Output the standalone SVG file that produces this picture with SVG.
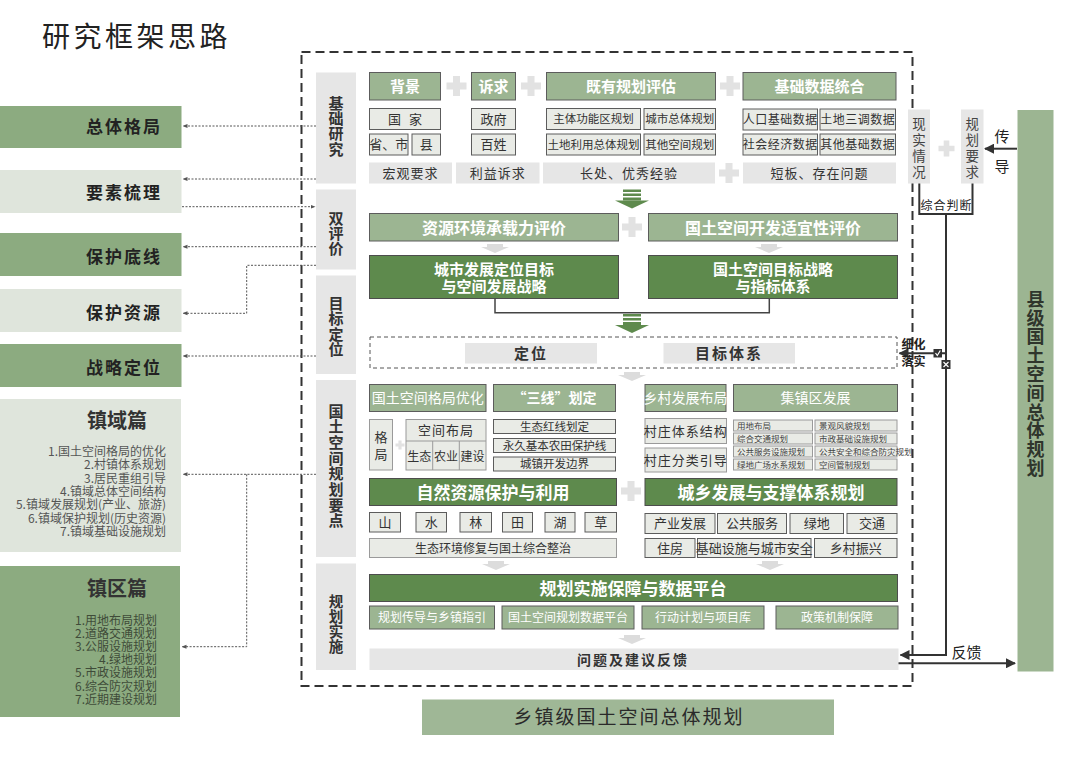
<svg xmlns="http://www.w3.org/2000/svg" width="1080" height="764" viewBox="0 0 1080 764">
<defs>
<style>
text{font-family:"Noto Sans CJK SC","Noto Sans",sans-serif;}
.hd{fill:#9cb592;stroke:#5c5c5c;stroke-width:1}
.dk{fill:#5e8a4d;stroke:#4d4d4d;stroke-width:1}
.lt{fill:#e9ebe6;stroke:#5c5c5c;stroke-width:1}
.lt2{fill:#e9ebe6;stroke:#9a9a9a;stroke-width:1}
.gy{fill:#e6e6e6}
.lg{fill:#8cab80}
.ll{fill:#dfe5dc}
.tw{fill:#fff;font-weight:bold;text-anchor:middle}
.twn{fill:#fff;text-anchor:middle}
.td{fill:#333;text-anchor:middle}
.tb{fill:#333;font-weight:bold;text-anchor:middle}
.vt{writing-mode:vertical-rl;text-anchor:middle}
.lbl{fill:#222;font-weight:bold;font-size:17px;letter-spacing:2px;text-anchor:end}
.lst{fill:#555;font-size:12px;text-anchor:end}
.dot{fill:none;stroke:#555;stroke-width:1;stroke-dasharray:2 1.5}
.ln{fill:none;stroke:#333;stroke-width:2}
.sm{fill:#444;font-size:8.5px}
</style>
<marker id="ms" viewBox="0 0 10 10" refX="9" refY="5" markerWidth="5" markerHeight="5" orient="auto"><path d="M0,1 L10,5 L0,9 Z" fill="#555"/></marker>
<marker id="mb" viewBox="0 0 10 10" refX="9" refY="5" markerWidth="5" markerHeight="5" orient="auto"><path d="M0,0 L10,5 L0,10 Z" fill="#333"/></marker>
<g id="plus"><path d="M-10 -3.5H10V3.5H-10Z M-3.5 -10H3.5V10H-3.5Z" fill="#e2e2e2"/></g>
<g id="big" fill="#5e8a4d"><rect x="-9" y="0" width="18" height="2.5"/><rect x="-9" y="4" width="18" height="2.5"/><rect x="-9" y="8" width="18" height="3"/><polygon points="-17,11 17,11 0,19"/></g>
<g id="sa"><polygon points="-8,0 8,0 8,3 14,3 0,9 -14,3 -8,3" fill="#dcdcdc"/></g>
</defs>
<rect width="1080" height="764" fill="#fff"/>

<text x="42" y="47" font-size="28" fill="#222" letter-spacing="3.5">研究框架思路</text>

<!-- left nodes -->
<g id="left-zongti"><rect x="0" y="106" width="181.5" height="42" class="lg"/><text x="162" y="133" class="lbl">总体格局</text></g>
<g id="left-yaosu"><rect x="0" y="170" width="181.5" height="43" class="ll"/><text x="162" y="199" class="lbl">要素梳理</text></g>
<g id="left-dixian"><rect x="0" y="233" width="181.5" height="43" class="lg"/><text x="162" y="263" class="lbl">保护底线</text></g>
<g id="left-ziyuan"><rect x="0" y="289" width="181.5" height="43" class="ll"/><text x="162" y="319" class="lbl">保护资源</text></g>
<g id="left-zhanlue"><rect x="0" y="344" width="181.5" height="43" class="lg"/><text x="162" y="374" class="lbl">战略定位</text></g>
<g id="left-zhenyu"><rect x="0" y="399" width="181" height="153" class="ll"/>
<text x="117" y="428" class="tb" font-size="20">镇域篇</text>
<text class="lst"><tspan x="166" y="456">1.国土空间格局的优化</tspan><tspan x="166" dy="13.3">2.村镇体系规划</tspan><tspan x="166" dy="13.3">3.居民重组引导</tspan><tspan x="166" dy="13.3">4.镇域总体空间结构</tspan><tspan x="166" dy="13.3">5.镇域发展规划(产业、旅游)</tspan><tspan x="166" dy="13.3">6.镇域保护规划(历史资源)</tspan><tspan x="166" dy="13.3">7.镇域基础设施规划</tspan></text></g>
<g id="left-zhenqu"><rect x="0" y="566" width="180" height="151" class="lg"/>
<text x="117" y="596" class="tb" font-size="20">镇区篇</text>
<text class="lst" style="fill:#3f4b39"><tspan x="157" y="624.5">1.用地布局规划</tspan><tspan x="157" dy="13.2">2.道路交通规划</tspan><tspan x="157" dy="13.2">3.公服设施规划</tspan><tspan x="157" dy="13.2">4.绿地规划</tspan><tspan x="157" dy="13.2">5.市政设施规划</tspan><tspan x="157" dy="13.2">6.综合防灾规划</tspan><tspan x="157" dy="13.2">7.近期建设规划</tspan></text></g>

<!-- outer dashed frame -->
<rect x="301.5" y="52" width="611" height="634" fill="none" stroke="#333" stroke-width="2" stroke-dasharray="9 5"/>

<!-- column labels -->
<g id="col-jichu"><rect x="316" y="72.5" width="40" height="111" class="gy"/><text x="336" y="126.3" class="tb vt" font-size="15" letter-spacing="0.3">基础研究</text></g>
<g id="col-shuang"><rect x="316" y="189.5" width="40" height="80" class="gy"/><text x="336" y="233.3" class="tb vt" font-size="15">双评价</text></g>
<g id="col-mubiao"><rect x="316" y="275.5" width="40" height="98.5" class="gy"/><text x="336" y="326.5" class="tb vt" font-size="15" letter-spacing="0.3">目标定位</text></g>
<g id="col-yaodian"><rect x="316" y="380" width="40" height="177" class="gy"/><text x="336" y="466" class="tb vt" font-size="15" letter-spacing="0.67">国土空间规划要点</text></g>
<g id="col-shishi"><rect x="316" y="563.5" width="40" height="106.5" class="gy"/><text x="336" y="624" class="tb vt" font-size="14.5" letter-spacing="0.3">规划实施</text></g>

<!-- row 1 基础研究 -->
<g id="beijing"><rect x="369.5" y="72.5" width="71" height="27.5" class="hd"/><text x="405" y="91.5" class="tw" font-size="15">背景</text>
<rect x="369.5" y="108.5" width="71" height="21" class="lt"/><text x="405" y="123.5" class="td" font-size="13" letter-spacing="8" dx="4">国家</text>
<rect x="369.5" y="134" width="38.5" height="21" class="lt"/><text x="388.7" y="149" class="td" font-size="13">省、市</text>
<rect x="412" y="134" width="28.5" height="21" class="lt"/><text x="426.2" y="149" class="td" font-size="13">县</text>
<rect x="369" y="162.5" width="83" height="21" class="gy"/><text x="410.5" y="177.5" class="td" font-size="13" letter-spacing="1">宏观要求</text></g>
<g id="suqiu"><rect x="471.5" y="72.5" width="44" height="27.5" class="hd"/><text x="493.5" y="91.5" class="tw" font-size="15">诉求</text>
<rect x="471.5" y="108.5" width="44" height="21" class="lt"/><text x="493.5" y="123.5" class="td" font-size="13">政府</text>
<rect x="471.5" y="134" width="44" height="21" class="lt"/><text x="493.5" y="149" class="td" font-size="13">百姓</text>
<rect x="456" y="162.5" width="83.5" height="21" class="gy"/><text x="497.7" y="177.5" class="td" font-size="13" letter-spacing="1">利益诉求</text></g>
<g id="jiyou"><rect x="546.5" y="72.5" width="169" height="27.5" class="hd"/><text x="631" y="91.5" class="tw" font-size="15">既有规划评估</text>
<rect x="546.5" y="108.5" width="94" height="21" class="lt"/><text x="593.5" y="123" class="td" font-size="11.5">主体功能区规划</text>
<rect x="644" y="108.5" width="71.5" height="21" class="lt"/><text x="679.7" y="123" class="td" font-size="11.5">城市总体规划</text>
<rect x="546.5" y="134" width="94" height="21" class="lt"/><text x="593.5" y="148.5" class="td" font-size="11.5">土地利用总体规划</text>
<rect x="644" y="134" width="71.5" height="21" class="lt"/><text x="679.7" y="148.5" class="td" font-size="11.5">其他空间规划</text>
<rect x="543" y="162.5" width="172" height="21" class="gy"/><text x="629" y="177.5" class="td" font-size="13" letter-spacing="1">长处、优秀经验</text></g>
<g id="jichushuju"><rect x="743" y="72.5" width="153" height="27.5" class="hd"/><text x="819.5" y="91.5" class="tw" font-size="15">基础数据统合</text>
<rect x="743" y="109" width="74.5" height="21" class="lt"/><text x="780.2" y="124" class="td" font-size="12" letter-spacing="0.5">人口基础数据</text>
<rect x="820" y="109" width="75.5" height="21" class="lt"/><text x="857.7" y="124" class="td" font-size="12" letter-spacing="0.5">土地三调数据</text>
<rect x="743" y="134" width="74.5" height="21" class="lt"/><text x="780.2" y="149" class="td" font-size="12" letter-spacing="0.5">社会经济数据</text>
<rect x="820" y="134" width="75.5" height="21" class="lt"/><text x="857.7" y="149" class="td" font-size="12" letter-spacing="0.5">其他基础数据</text>
<rect x="743" y="162.5" width="153" height="21" class="gy"/><text x="819.5" y="177.5" class="td" font-size="13" letter-spacing="1">短板、存在问题</text></g>
<use href="#plus" x="456.5" y="86"/>
<use href="#plus" x="531" y="86"/>
<use href="#plus" x="730" y="86"/>
<use href="#plus" x="729" y="173"/>

<!-- row 2 双评价 -->
<use href="#big" x="632" y="189.5"/>
<g id="chengzai"><rect x="369.5" y="213.5" width="249" height="27.5" class="hd"/><text x="494" y="233.8" class="tw" font-size="16">资源环境承载力评价</text></g>
<g id="shiyi"><rect x="648.5" y="213.5" width="249" height="27.5" class="hd"/><text x="773" y="233.8" class="tw" font-size="16">国土空间开发适宜性评价</text></g>
<use href="#plus" x="632" y="227"/>
<use href="#sa" x="495" y="244"/>
<use href="#sa" x="769" y="244"/>
<g id="chengshi"><rect x="369.5" y="255.5" width="249" height="43" class="dk"/><text class="tw" font-size="15"><tspan x="494" y="274.5">城市发展定位目标</tspan><tspan x="494" y="292">与空间发展战略</tspan></text></g>
<g id="guotumubiao"><rect x="648.5" y="255.5" width="249" height="43" class="dk"/><text class="tw" font-size="15"><tspan x="773" y="274.5">国土空间目标战略</tspan><tspan x="773" y="292">与指标体系</tspan></text></g>
<use href="#big" x="632" y="314"/>

<!-- 目标定位 -->
<g id="mubiao-box"><rect x="370" y="337" width="527" height="31" fill="none" stroke="#555" stroke-width="1" stroke-dasharray="4 3"/>
<rect x="465" y="343" width="132" height="20.5" class="gy"/><text x="531" y="358.5" class="tb" font-size="15" letter-spacing="2">定位</text>
<rect x="663.5" y="343" width="131.5" height="20.5" class="gy"/><text x="729" y="358.5" class="tb" font-size="15" letter-spacing="2">目标体系</text></g>
<use href="#sa" x="632" y="372"/>

<!-- 国土空间规划要点 left -->
<g id="geju-youhua"><rect x="369.5" y="384.5" width="116.5" height="27" class="hd"/><text x="427.7" y="403" class="twn" font-size="14">国土空间格局优化</text></g>
<g id="sanxian"><rect x="493.5" y="384.5" width="122" height="27" class="hd"/><text x="554.5" y="403" class="tw" font-size="14">“三线”划定</text></g>
<g id="geju"><rect x="369.5" y="419.5" width="23" height="50.5" class="lt2"/><text x="381" y="447.5" class="td vt" font-size="13" letter-spacing="4.3">格局</text></g>
<use href="#plus" x="400" y="445" transform="translate(400 445) scale(0.45) translate(-400 -445)"/>
<g id="kongjian-buju"><rect x="406" y="419.5" width="80" height="50.5" class="lt2"/>
<line x1="406" y1="441" x2="486" y2="441" stroke="#9a9a9a"/><line x1="432.7" y1="441" x2="432.7" y2="470" stroke="#9a9a9a"/><line x1="459.3" y1="441" x2="459.3" y2="470" stroke="#9a9a9a"/>
<text x="446" y="435" class="td" font-size="13" letter-spacing="1">空间布局</text>
<text x="419.3" y="460.5" class="td" font-size="12">生态</text><text x="446" y="460.5" class="td" font-size="12">农业</text><text x="472.6" y="460.5" class="td" font-size="12">建设</text></g>
<g id="hongxian"><rect x="493.5" y="419.5" width="122" height="14" class="lt"/><text x="554.5" y="430.5" class="td" font-size="11.5">生态红线划定</text></g>
<g id="nongtian"><rect x="493.5" y="438.5" width="122" height="14" class="lt"/><text x="554.5" y="449.5" class="td" font-size="11.5">永久基本农田保护线</text></g>
<g id="bianjie"><rect x="493.5" y="457" width="122" height="14" class="lt"/><text x="554.5" y="468" class="td" font-size="11.5">城镇开发边界</text></g>
<g id="ziran"><rect x="369.5" y="478.5" width="247" height="27" class="dk"/><text x="493" y="498.5" class="tw" font-size="17">自然资源保护与利用</text></g>
<g id="shan"><rect x="369.5" y="512.5" width="31" height="19.5" class="lt"/><text x="385" y="527" class="td" font-size="13">山</text></g>
<g id="shui"><rect x="416" y="512.5" width="30.5" height="19.5" class="lt"/><text x="431.2" y="527" class="td" font-size="13">水</text></g>
<g id="lin"><rect x="460" y="512.5" width="31.5" height="19.5" class="lt"/><text x="475.7" y="527" class="td" font-size="13">林</text></g>
<g id="tian"><rect x="502.5" y="512.5" width="30" height="19.5" class="lt"/><text x="517.5" y="527" class="td" font-size="13">田</text></g>
<g id="hu"><rect x="545" y="512.5" width="30" height="19.5" class="lt"/><text x="560" y="527" class="td" font-size="13">湖</text></g>
<g id="cao"><rect x="585" y="512.5" width="31.5" height="19.5" class="lt"/><text x="600.7" y="527" class="td" font-size="13">草</text></g>
<g id="xiufu"><rect x="369.5" y="538.5" width="247" height="19" class="lt2"/><text x="493" y="552.5" class="td" font-size="12">生态环境修复与国土综合整治</text></g>
<use href="#plus" x="631" y="491"/>

<!-- 国土空间规划要点 right -->
<g id="xiangcun"><rect x="645" y="384.5" width="81" height="27" class="hd"/><text x="685.5" y="403" class="twn" font-size="14">乡村发展布局</text></g>
<g id="jizhen"><rect x="733.5" y="384.5" width="164" height="27" class="hd"/><text x="815.5" y="403" class="twn" font-size="14">集镇区发展</text></g>
<g id="cz-tixi"><rect x="645" y="418.5" width="81.5" height="25" class="lt2"/><text x="685.7" y="435.5" class="td" font-size="13" letter-spacing="1">村庄体系结构</text></g>
<g id="cz-fenlei"><rect x="645" y="448" width="81.5" height="24" class="lt2"/><text x="685.7" y="464.5" class="td" font-size="13" letter-spacing="1">村庄分类引导</text></g>
<g id="jizhen-grid">
<rect x="733.5" y="420" width="79" height="11" class="lt2"/><text x="737" y="428.8" class="sm">用地布局</text>
<rect x="815" y="420" width="82" height="11" class="lt2"/><text x="819" y="428.8" class="sm">景观风貌规划</text>
<rect x="733.5" y="433" width="79" height="11" class="lt2"/><text x="737" y="441.8" class="sm">综合交通规划</text>
<rect x="815" y="433" width="82" height="11" class="lt2"/><text x="819" y="441.8" class="sm">市政基础设施规划</text>
<rect x="733.5" y="446" width="79" height="11" class="lt2"/><text x="737" y="454.8" class="sm">公共服务设施规划</text>
<rect x="815" y="446" width="82" height="11" class="lt2"/><text x="819" y="454.8" class="sm">公共安全和综合防灾规划</text>
<rect x="733.5" y="459" width="79" height="11" class="lt2"/><text x="737" y="467.8" class="sm">绿地广场水系规划</text>
<rect x="815" y="459" width="82" height="11" class="lt2"/><text x="819" y="467.8" class="sm">空间管制规划</text></g>
<g id="chengxiang"><rect x="645" y="478.5" width="252" height="27" class="dk"/><text x="771" y="498.5" class="tw" font-size="17">城乡发展与支撑体系规划</text></g>
<g id="chanye"><rect x="645" y="513.5" width="70" height="20" class="lt"/><text x="680" y="528" class="td" font-size="13">产业发展</text></g>
<g id="gonggong"><rect x="717.5" y="513.5" width="69" height="20" class="lt"/><text x="752" y="528" class="td" font-size="13">公共服务</text></g>
<g id="lvdi"><rect x="790" y="513.5" width="53.5" height="20" class="lt"/><text x="816.7" y="528" class="td" font-size="13">绿地</text></g>
<g id="jiaotong"><rect x="847" y="513.5" width="50" height="20" class="lt"/><text x="872" y="528" class="td" font-size="13">交通</text></g>
<g id="zhufang"><rect x="645" y="538.5" width="50" height="19" class="lt"/><text x="670" y="552.5" class="td" font-size="13">住房</text></g>
<g id="jichusheshi"><rect x="697.5" y="538.5" width="113.5" height="19" class="lt"/><text x="754.2" y="552.5" class="td" font-size="13">基础设施与城市安全</text></g>
<g id="zhenxing"><rect x="814.5" y="538.5" width="82.5" height="19" class="lt"/><text x="855.7" y="552.5" class="td" font-size="13">乡村振兴</text></g>
<use href="#sa" x="496" y="561"/>
<use href="#sa" x="770" y="561"/>

<!-- 规划实施 -->
<g id="baozhang"><rect x="369.5" y="574.5" width="528" height="27" class="dk"/><text x="633" y="594.5" class="tw" font-size="17">规划实施保障与数据平台</text></g>
<g id="chuandao"><rect x="369.5" y="606" width="125" height="23" class="hd"/><text x="432" y="621.5" class="twn" font-size="12">规划传导与乡镇指引</text></g>
<g id="pingtai"><rect x="502" y="606" width="132" height="23" class="hd"/><text x="568" y="621.5" class="twn" font-size="12">国土空间规划数据平台</text></g>
<g id="xingdong"><rect x="642" y="606" width="122" height="23" class="hd"/><text x="703" y="621.5" class="twn" font-size="12">行动计划与项目库</text></g>
<g id="zhengce"><rect x="776" y="606" width="122" height="23" class="hd"/><text x="837" y="621.5" class="twn" font-size="12">政策机制保障</text></g>
<use href="#sa" x="632" y="635"/>
<g id="wenti"><rect x="369.5" y="648.5" width="529" height="21.5" class="gy"/><text x="633" y="664.5" class="tb" font-size="14" letter-spacing="2">问题及建议反馈</text></g>

<!-- bottom -->
<g id="xiangzhen"><rect x="422" y="699.5" width="412" height="35.5" fill="#9fb796"/><text x="629" y="724" class="td" font-size="19" letter-spacing="2" style="fill:#2a2a2a">乡镇级国土空间总体规划</text></g>

<!-- right side -->
<g id="xianshi"><rect x="908" y="109.5" width="22" height="74" class="gy"/><text x="919" y="149.5" class="td vt" font-size="13.5" letter-spacing="2.5" style="fill:#444">现实情况</text></g>
<use href="#plus" x="946.5" y="148.5" transform="translate(946.5 148.5) scale(0.8) translate(-946.5 -148.5)"/>
<g id="guihua-yaoqiu"><rect x="961" y="109.5" width="22.5" height="74" class="gy"/><text x="972.2" y="149.5" class="td vt" font-size="13.5" letter-spacing="2.5" style="fill:#444">规划要求</text></g>
<g id="xianji"><rect x="1017.5" y="110" width="36" height="561.5" fill="#9cb592"/><text x="1035.5" y="384" class="tb vt" font-size="18" letter-spacing="0.8" style="fill:#2f352c">县级国土空间总体规划</text></g>

<!-- connectors -->
<g id="connectors">
<path class="dot" d="M316 126 H183" marker-end="url(#ms)"/>
<path class="dot" d="M316 179 H183" marker-end="url(#ms)"/>
<path class="dot" d="M182 206.7 H315" marker-end="url(#ms)"/>
<path class="dot" d="M316 246.7 H183" marker-end="url(#ms)"/>
<path class="dot" d="M316 265.3 H246.7 V313.3 H183" marker-end="url(#ms)"/>
<path class="dot" d="M316 356 H183" marker-end="url(#ms)"/>
<path class="dot" d="M316 474.3 H183" marker-end="url(#ms)"/>
<path class="dot" d="M246.7 474.3 V646.7 H182" marker-end="url(#ms)"/>
<path d="M495 298.5 V312.7 H769.3 V298.5" fill="none" stroke="#444" stroke-width="1.5"/>
<path class="ln" d="M1017 148.7 H985" marker-end="url(#mb)"/>
<text x="1002" y="142" class="td" font-size="15" style="fill:#222">传</text>
<text x="1002" y="171.5" class="td" font-size="15" style="fill:#222">导</text>
<path class="ln" d="M919.3 183.5 V214 H972.5 V183.5"/>
<text x="946.5" y="210" class="td" font-size="12" letter-spacing="1" style="fill:#222">综合判断</text>
<path class="ln" d="M946 214 V655 H900.5" marker-end="url(#mb)"/>
<path class="ln" d="M898.5 663.3 H1015" marker-end="url(#mb)"/>
<text x="966.5" y="657.5" class="td" font-size="15" style="fill:#222">反馈</text>
<path class="ln" d="M946 353.3 H899.5" marker-end="url(#mb)"/>
<text x="913.5" y="348.5" class="tb" font-size="12" style="fill:#222">细化</text>
<text x="913.5" y="365.5" class="tb" font-size="12" style="fill:#222">落实</text>
<rect x="933.5" y="349" width="8.5" height="8.5" fill="#333"/>
<polyline points="935.5,353 937.3,355.5 940.3,350.5" fill="none" stroke="#fff" stroke-width="1.2"/>
<rect x="941.5" y="360" width="9" height="9" fill="#333"/>
<path d="M943.5 362 L948.5 367 M948.5 362 L943.5 367" stroke="#fff" stroke-width="1.2"/>
</g>
</svg>
